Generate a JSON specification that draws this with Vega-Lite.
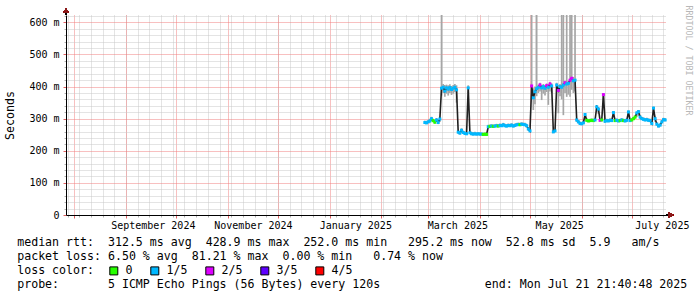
{
"$schema": "https://vega.github.io/schema/vega-lite/v6.json",
"width": 600, "height": 200,
"autosize": {"type": "none"},
"padding": {"left": 66, "top": 15, "right": 31, "bottom": 82},
"background": "white",
"config": {"view": {"stroke": null}, "font": "DejaVu Sans Mono", "axis": {"labelFont": "DejaVu Sans Mono", "titleFont": "DejaVu Sans Mono", "labelColor": "black", "titleColor": "black", "titleFontWeight": "normal"}},
"data": {"values": [
{"t":"2025-02-27T00:00","med":288,"lo":284,"hi":294,"loss":"1/5"},
{"t":"2025-02-28T00:00","med":287,"lo":283,"hi":293,"loss":"1/5"},
{"t":"2025-03-01T00:00","med":290,"lo":286,"hi":296,"loss":"1/5"},
{"t":"2025-03-02T00:00","med":293,"lo":288,"hi":300,"loss":"1/5"},
{"t":"2025-03-03T00:00","med":300,"lo":292,"hi":306,"loss":"1/5"},
{"t":"2025-03-04T00:00","med":294,"lo":289,"hi":300,"loss":"0"},
{"t":"2025-03-05T00:00","med":289,"lo":285,"hi":295,"loss":"0"},
{"t":"2025-03-06T00:00","med":296,"lo":290,"hi":302,"loss":"1/5"},
{"t":"2025-03-07T00:00","med":288,"lo":284,"hi":294,"loss":"1/5"},
{"t":"2025-03-08T00:00","med":299,"lo":290,"hi":305,"loss":"1/5"},
{"t":"2025-03-09T00:00","med":395,"lo":372,"hi":700,"loss":"1/5"},
{"t":"2025-03-10T00:00","med":398,"lo":380,"hi":408,"loss":"1/5"},
{"t":"2025-03-11T00:00","med":386,"lo":368,"hi":405,"loss":"1/5"},
{"t":"2025-03-12T00:00","med":396,"lo":378,"hi":406,"loss":"1/5"},
{"t":"2025-03-13T00:00","med":392,"lo":372,"hi":404,"loss":"1/5"},
{"t":"2025-03-14T00:00","med":397,"lo":380,"hi":407,"loss":"1/5"},
{"t":"2025-03-15T00:00","med":391,"lo":374,"hi":402,"loss":"1/5"},
{"t":"2025-03-16T00:00","med":395,"lo":378,"hi":405,"loss":"1/5"},
{"t":"2025-03-17T00:00","med":398,"lo":382,"hi":408,"loss":"1/5"},
{"t":"2025-03-18T00:00","med":390,"lo":350,"hi":404,"loss":"1/5"},
{"t":"2025-03-19T00:00","med":258,"lo":254,"hi":264,"loss":"1/5"},
{"t":"2025-03-20T00:00","med":255,"lo":251,"hi":261,"loss":"1/5"},
{"t":"2025-03-21T00:00","med":264,"lo":256,"hi":270,"loss":"1/5"},
{"t":"2025-03-22T00:00","med":257,"lo":253,"hi":263,"loss":"1/5"},
{"t":"2025-03-23T00:00","med":254,"lo":250,"hi":260,"loss":"1/5"},
{"t":"2025-03-24T00:00","med":253,"lo":249,"hi":259,"loss":"1/5"},
{"t":"2025-03-25T00:00","med":396,"lo":380,"hi":404,"loss":"1/5"},
{"t":"2025-03-26T00:00","med":256,"lo":252,"hi":262,"loss":"1/5"},
{"t":"2025-03-27T00:00","med":253,"lo":249,"hi":259,"loss":"1/5"},
{"t":"2025-03-28T00:00","med":252,"lo":248,"hi":258,"loss":"1/5"},
{"t":"2025-03-29T00:00","med":253,"lo":249,"hi":259,"loss":"1/5"},
{"t":"2025-03-30T00:00","med":252,"lo":248,"hi":257,"loss":"1/5"},
{"t":"2025-03-31T00:00","med":253,"lo":249,"hi":258,"loss":"1/5"},
{"t":"2025-04-01T00:00","med":252,"lo":248,"hi":257,"loss":"1/5"},
{"t":"2025-04-02T00:00","med":252,"lo":248,"hi":257,"loss":"1/5"},
{"t":"2025-04-03T00:00","med":251,"lo":247,"hi":256,"loss":"0"},
{"t":"2025-04-04T00:00","med":252,"lo":248,"hi":257,"loss":"0"},
{"t":"2025-04-05T00:00","med":251,"lo":247,"hi":256,"loss":"0"},
{"t":"2025-04-06T00:00","med":275,"lo":270,"hi":281,"loss":"1/5"},
{"t":"2025-04-07T00:00","med":276,"lo":272,"hi":282,"loss":"0"},
{"t":"2025-04-08T00:00","med":277,"lo":273,"hi":283,"loss":"1/5"},
{"t":"2025-04-09T00:00","med":276,"lo":272,"hi":282,"loss":"0"},
{"t":"2025-04-10T00:00","med":277,"lo":273,"hi":283,"loss":"1/5"},
{"t":"2025-04-11T00:00","med":278,"lo":274,"hi":284,"loss":"1/5"},
{"t":"2025-04-12T00:00","med":277,"lo":273,"hi":283,"loss":"0"},
{"t":"2025-04-13T00:00","med":279,"lo":275,"hi":285,"loss":"1/5"},
{"t":"2025-04-14T00:00","med":278,"lo":274,"hi":284,"loss":"1/5"},
{"t":"2025-04-15T00:00","med":281,"lo":276,"hi":287,"loss":"1/5"},
{"t":"2025-04-16T00:00","med":278,"lo":274,"hi":284,"loss":"1/5"},
{"t":"2025-04-17T00:00","med":277,"lo":273,"hi":283,"loss":"1/5"},
{"t":"2025-04-18T00:00","med":279,"lo":275,"hi":285,"loss":"1/5"},
{"t":"2025-04-19T00:00","med":278,"lo":274,"hi":284,"loss":"1/5"},
{"t":"2025-04-20T00:00","med":280,"lo":276,"hi":286,"loss":"1/5"},
{"t":"2025-04-21T00:00","med":277,"lo":273,"hi":283,"loss":"1/5"},
{"t":"2025-04-22T00:00","med":279,"lo":275,"hi":285,"loss":"1/5"},
{"t":"2025-04-23T00:00","med":281,"lo":277,"hi":287,"loss":"1/5"},
{"t":"2025-04-24T00:00","med":282,"lo":278,"hi":288,"loss":"1/5"},
{"t":"2025-04-25T00:00","med":281,"lo":277,"hi":287,"loss":"0"},
{"t":"2025-04-26T00:00","med":283,"lo":279,"hi":289,"loss":"1/5"},
{"t":"2025-04-27T00:00","med":282,"lo":278,"hi":288,"loss":"1/5"},
{"t":"2025-04-28T00:00","med":281,"lo":277,"hi":287,"loss":"1/5"},
{"t":"2025-04-29T00:00","med":278,"lo":274,"hi":284,"loss":"1/5"},
{"t":"2025-04-30T00:00","med":268,"lo":263,"hi":274,"loss":"1/5"},
{"t":"2025-05-01T00:00","med":262,"lo":258,"hi":268,"loss":"1/5"},
{"t":"2025-05-02T00:00","med":402,"lo":385,"hi":700,"loss":"2/5"},
{"t":"2025-05-03T00:00","med":365,"lo":327,"hi":395,"loss":"1/5"},
{"t":"2025-05-04T00:00","med":384,"lo":345,"hi":400,"loss":"1/5"},
{"t":"2025-05-05T00:00","med":394,"lo":370,"hi":700,"loss":"1/5"},
{"t":"2025-05-06T00:00","med":398,"lo":380,"hi":406,"loss":"1/5"},
{"t":"2025-05-07T00:00","med":405,"lo":385,"hi":412,"loss":"2/5"},
{"t":"2025-05-08T00:00","med":396,"lo":358,"hi":405,"loss":"1/5"},
{"t":"2025-05-09T00:00","med":400,"lo":378,"hi":408,"loss":"1/5"},
{"t":"2025-05-10T00:00","med":395,"lo":372,"hi":404,"loss":"1/5"},
{"t":"2025-05-11T00:00","med":403,"lo":383,"hi":410,"loss":"2/5"},
{"t":"2025-05-12T00:00","med":398,"lo":343,"hi":407,"loss":"1/5"},
{"t":"2025-05-13T00:00","med":408,"lo":385,"hi":415,"loss":"2/5"},
{"t":"2025-05-14T00:00","med":402,"lo":380,"hi":410,"loss":"1/5"},
{"t":"2025-05-15T00:00","med":259,"lo":255,"hi":265,"loss":"1/5"},
{"t":"2025-05-16T00:00","med":262,"lo":258,"hi":268,"loss":"1/5"},
{"t":"2025-05-17T00:00","med":405,"lo":385,"hi":412,"loss":"1/5"},
{"t":"2025-05-18T00:00","med":388,"lo":317,"hi":405,"loss":"2/5"},
{"t":"2025-05-19T00:00","med":400,"lo":370,"hi":408,"loss":"1/5"},
{"t":"2025-05-20T00:00","med":398,"lo":360,"hi":700,"loss":"1/5"},
{"t":"2025-05-21T00:00","med":405,"lo":311,"hi":700,"loss":"1/5"},
{"t":"2025-05-22T00:00","med":412,"lo":380,"hi":418,"loss":"2/5"},
{"t":"2025-05-23T00:00","med":408,"lo":368,"hi":700,"loss":"1/5"},
{"t":"2025-05-24T00:00","med":410,"lo":375,"hi":418,"loss":"1/5"},
{"t":"2025-05-25T00:00","med":420,"lo":368,"hi":700,"loss":"2/5"},
{"t":"2025-05-26T00:00","med":426,"lo":390,"hi":700,"loss":"2/5"},
{"t":"2025-05-27T00:00","med":418,"lo":380,"hi":430,"loss":"1/5"},
{"t":"2025-05-28T00:00","med":420,"lo":385,"hi":700,"loss":"1/5"},
{"t":"2025-05-29T00:00","med":296,"lo":290,"hi":302,"loss":"1/5"},
{"t":"2025-05-30T00:00","med":290,"lo":286,"hi":296,"loss":"1/5"},
{"t":"2025-05-31T00:00","med":285,"lo":281,"hi":291,"loss":"1/5"},
{"t":"2025-06-01T00:00","med":284,"lo":280,"hi":290,"loss":"1/5"},
{"t":"2025-06-02T00:00","med":287,"lo":283,"hi":293,"loss":"1/5"},
{"t":"2025-06-03T00:00","med":313,"lo":300,"hi":318,"loss":"1/5"},
{"t":"2025-06-04T00:00","med":295,"lo":291,"hi":301,"loss":"0"},
{"t":"2025-06-05T00:00","med":293,"lo":289,"hi":299,"loss":"0"},
{"t":"2025-06-06T00:00","med":294,"lo":290,"hi":300,"loss":"0"},
{"t":"2025-06-07T00:00","med":295,"lo":291,"hi":301,"loss":"0"},
{"t":"2025-06-08T00:00","med":294,"lo":290,"hi":300,"loss":"0"},
{"t":"2025-06-09T00:00","med":296,"lo":292,"hi":302,"loss":"1/5"},
{"t":"2025-06-10T00:00","med":337,"lo":320,"hi":342,"loss":"1/5"},
{"t":"2025-06-11T00:00","med":330,"lo":315,"hi":336,"loss":"1/5"},
{"t":"2025-06-12T00:00","med":295,"lo":291,"hi":301,"loss":"2/5"},
{"t":"2025-06-13T00:00","med":296,"lo":292,"hi":302,"loss":"0"},
{"t":"2025-06-14T00:00","med":375,"lo":350,"hi":380,"loss":"2/5"},
{"t":"2025-06-15T00:00","med":292,"lo":288,"hi":298,"loss":"1/5"},
{"t":"2025-06-16T00:00","med":294,"lo":290,"hi":300,"loss":"1/5"},
{"t":"2025-06-17T00:00","med":293,"lo":289,"hi":299,"loss":"1/5"},
{"t":"2025-06-18T00:00","med":295,"lo":291,"hi":301,"loss":"1/5"},
{"t":"2025-06-19T00:00","med":294,"lo":290,"hi":300,"loss":"1/5"},
{"t":"2025-06-20T00:00","med":319,"lo":305,"hi":324,"loss":"1/5"},
{"t":"2025-06-21T00:00","med":294,"lo":290,"hi":300,"loss":"0"},
{"t":"2025-06-22T00:00","med":295,"lo":291,"hi":301,"loss":"1/5"},
{"t":"2025-06-23T00:00","med":293,"lo":289,"hi":299,"loss":"1/5"},
{"t":"2025-06-24T00:00","med":294,"lo":290,"hi":300,"loss":"0"},
{"t":"2025-06-25T00:00","med":296,"lo":292,"hi":302,"loss":"1/5"},
{"t":"2025-06-26T00:00","med":294,"lo":290,"hi":300,"loss":"0"},
{"t":"2025-06-27T00:00","med":293,"lo":289,"hi":299,"loss":"1/5"},
{"t":"2025-06-28T00:00","med":295,"lo":291,"hi":301,"loss":"1/5"},
{"t":"2025-06-29T00:00","med":321,"lo":305,"hi":326,"loss":"1/5"},
{"t":"2025-06-30T00:00","med":294,"lo":290,"hi":300,"loss":"1/5"},
{"t":"2025-07-01T00:00","med":296,"lo":292,"hi":302,"loss":"0"},
{"t":"2025-07-02T00:00","med":300,"lo":296,"hi":306,"loss":"0"},
{"t":"2025-07-03T00:00","med":305,"lo":300,"hi":311,"loss":"0"},
{"t":"2025-07-04T00:00","med":318,"lo":305,"hi":323,"loss":"1/5"},
{"t":"2025-07-05T00:00","med":322,"lo":308,"hi":327,"loss":"1/5"},
{"t":"2025-07-06T00:00","med":305,"lo":300,"hi":311,"loss":"1/5"},
{"t":"2025-07-07T00:00","med":300,"lo":296,"hi":306,"loss":"1/5"},
{"t":"2025-07-08T00:00","med":298,"lo":294,"hi":304,"loss":"1/5"},
{"t":"2025-07-09T00:00","med":296,"lo":292,"hi":302,"loss":"1/5"},
{"t":"2025-07-10T00:00","med":297,"lo":293,"hi":303,"loss":"1/5"},
{"t":"2025-07-11T00:00","med":295,"lo":291,"hi":301,"loss":"1/5"},
{"t":"2025-07-12T00:00","med":294,"lo":290,"hi":300,"loss":"1/5"},
{"t":"2025-07-13T00:00","med":285,"lo":281,"hi":291,"loss":"1/5"},
{"t":"2025-07-14T00:00","med":333,"lo":310,"hi":338,"loss":"1/5"},
{"t":"2025-07-15T00:00","med":300,"lo":290,"hi":306,"loss":"1/5"},
{"t":"2025-07-16T00:00","med":283,"lo":279,"hi":289,"loss":"1/5"},
{"t":"2025-07-17T00:00","med":277,"lo":273,"hi":283,"loss":"1/5"},
{"t":"2025-07-18T00:00","med":280,"lo":276,"hi":286,"loss":"1/5"},
{"t":"2025-07-19T00:00","med":290,"lo":286,"hi":296,"loss":"1/5"},
{"t":"2025-07-20T00:00","med":297,"lo":293,"hi":303,"loss":"1/5"},
{"t":"2025-07-21T00:00","med":296,"lo":292,"hi":302,"loss":"1/5"}
]},
"resolve": {"axis": {"x": "independent", "y": "independent"}},
"layer": [
{"mark": {"type": "rule", "clip": true, "color": "#a6a6a6", "strokeWidth": 1.7},
 "encoding": {
  "x": {"field": "t", "type": "temporal", "scale": {"domain": [{"year": 2024, "month": 7, "date": 27}, {"year": 2025, "month": 7, "date": 21, "hours": 12}]},
        "axis": {"orient": "bottom", "grid": true, "gridColor": "#c8c8c8", "gridDash": [1, 1], "tickCount": {"interval": "week"}, "labels": false, "ticks": true, "tickColor": "#b0b0b0", "tickSize": 2, "domain": false, "title": null}},
  "y": {"field": "lo", "type": "quantitative", "scale": {"domain": [0, 623], "nice": false},
        "axis": {"orient": "left", "values": [20,40,60,80,120,140,160,180,220,240,260,280,320,340,360,380,420,440,460,480,520,540,560,580,620], "grid": true, "gridColor": "#c8c8c8", "gridDash": [1, 1], "labels": false, "ticks": true, "tickColor": "#b0b0b0", "tickSize": 2, "domain": false, "title": null}},
  "y2": {"field": "hi"}
 }},
{"mark": {"type": "line", "color": "#202020", "strokeWidth": 1.6},
 "encoding": {
  "x": {"field": "t", "type": "temporal", "scale": {"domain": [{"year": 2024, "month": 7, "date": 27}, {"year": 2025, "month": 7, "date": 21, "hours": 12}]},
        "axis": {"orient": "bottom", "grid": true, "gridColor": "#f08080", "gridDash": [1, 1], "tickCount": {"interval": "month"}, "labels": false, "ticks": true, "tickColor": "#e06060", "tickSize": 3, "domain": false, "title": null}},
  "y": {"field": "med", "type": "quantitative", "scale": {"domain": [0, 623], "nice": false},
        "axis": {"orient": "left", "values": [0,100,200,300,400,500,600], "grid": true, "gridColor": "#f08080", "gridDash": [1, 1], "labelExpr": "datum.value == 0 ? '0' : datum.value + ' m'", "labelFontSize": 10, "labelPadding": 4, "ticks": true, "tickColor": "#e06060", "tickSize": 3, "domain": true, "domainColor": "black", "title": "Seconds", "titleFontSize": 11.6, "titleX": -55.5, "titleY": 100, "titleAngle": -90, "titleAlign": "center", "titleBaseline": "middle"}}
 }},
{"mark": {"type": "tick", "orient": "horizontal", "thickness": 3, "size": 3, "opacity": 1},
 "encoding": {
  "x": {"field": "t", "type": "temporal", "scale": {"domain": [{"year": 2024, "month": 7, "date": 27}, {"year": 2025, "month": 7, "date": 21, "hours": 12}]},
        "axis": {"orient": "bottom", "values": [{"year": 2024, "month": 9, "date": 17}, {"year": 2024, "month": 11, "date": 16}, {"year": 2025, "month": 1, "date": 16, "hours": 8}, {"year": 2025, "month": 3, "date": 18, "hours": 12}, {"year": 2025, "month": 5, "date": 18, "hours": 12}, {"year": 2025, "month": 7, "date": 19}],
                 "format": "%B %Y", "grid": false, "ticks": false, "domain": true, "domainColor": "black", "labelFontSize": 10, "labelPadding": 5, "labelFlush": false, "labelOverlap": false, "labelBound": false,
                 "title": ["median rtt:\u00a0\u00a0312.5 ms avg\u00a0\u00a0428.9 ms max\u00a0\u00a0252.0 ms min\u00a0\u00a0\u00a0295.2 ms now\u00a0\u00a052.8 ms sd\u00a0\u00a05.9\u00a0\u00a0\u00a0am/s", "packet loss: 6.50 % avg\u00a0\u00a081.21 % max\u00a0\u00a00.00 % min\u00a0\u00a0\u00a00.74 % now", "loss color:", "probe:\u00a0\u00a0\u00a0\u00a0\u00a0\u00a0\u00a05 ICMP Echo Pings (56 Bytes) every 120s\u00a0\u00a0\u00a0\u00a0\u00a0\u00a0\u00a0\u00a0\u00a0\u00a0\u00a0\u00a0\u00a0\u00a0\u00a0end: Mon Jul 21 21:40:48 2025"],
                 "titleFontSize": 11.6, "titleX": -49.3, "titleY": 30, "titleAlign": "left", "titleBaseline": "alphabetic", "titleLineHeight": 14}},
  "y": {"field": "med", "type": "quantitative", "scale": {"domain": [0, 623], "nice": false},
        "axis": {"orient": "right", "labels": false, "ticks": false, "domain": false, "grid": false, "title": "RRDTOOL / TOBI OETIKER", "titleColor": "#b8b8b8", "titleFontSize": 8.3, "titleAngle": 90, "titleX": 21, "titleY": -10, "titleAlign": "left", "titleBaseline": "middle"}},
  "color": {"field": "loss", "type": "nominal",
            "scale": {"domain": ["0", "1/5", "2/5", "3/5", "4/5"], "range": ["#26ff00", "#00b8ff", "#dd00ff", "#5e00ff", "#ff0000"]},
            "legend": {"orient": "none", "legendX": 42, "legendY": 250, "direction": "horizontal", "columns": 5, "title": null, "symbolType": "square", "symbolSize": 64, "symbolStrokeWidth": 1, "symbolStrokeColor": "black", "symbolOpacity": 1, "labelFont": "DejaVu Sans Mono", "labelFontSize": 11.6, "labelColor": "black", "labelOffset": 6, "columnPadding": 15, "padding": 0,
                       "encode": {"symbols": {"update": {"stroke": {"value": "black"}, "strokeWidth": {"value": 1}}}}}}
 }},
{"mark": {"type": "rule", "color": "black", "strokeWidth": 1},
 "encoding": {
  "x": {"datum": {"year": 2024, "month": 7, "date": 27}, "type": "temporal", "axis": null},
  "y": {"datum": 623, "type": "quantitative", "axis": null},
  "y2": {"datum": 634}
 }},
{"mark": {"type": "point", "shape": "triangle-up", "filled": true, "color": "#8b1a1a", "size": 28, "opacity": 1},
 "encoding": {
  "x": {"datum": {"year": 2024, "month": 7, "date": 27}, "type": "temporal", "axis": null},
  "y": {"datum": 637, "type": "quantitative", "axis": null}
 }},
{"mark": {"type": "rule", "color": "black", "strokeWidth": 1},
 "encoding": {
  "x": {"datum": {"year": 2025, "month": 7, "date": 21, "hours": 12}, "type": "temporal", "axis": null},
  "x2": {"datum": {"year": 2025, "month": 7, "date": 23, "hours": 12}},
  "y": {"datum": 0, "type": "quantitative", "axis": null}
 }},
{"mark": {"type": "point", "shape": "triangle-right", "filled": true, "color": "#8b1a1a", "size": 28, "opacity": 1},
 "encoding": {
  "x": {"datum": {"year": 2025, "month": 7, "date": 24, "hours": 12}, "type": "temporal", "axis": null},
  "y": {"datum": 0, "type": "quantitative", "axis": null}
 }}
]
}
